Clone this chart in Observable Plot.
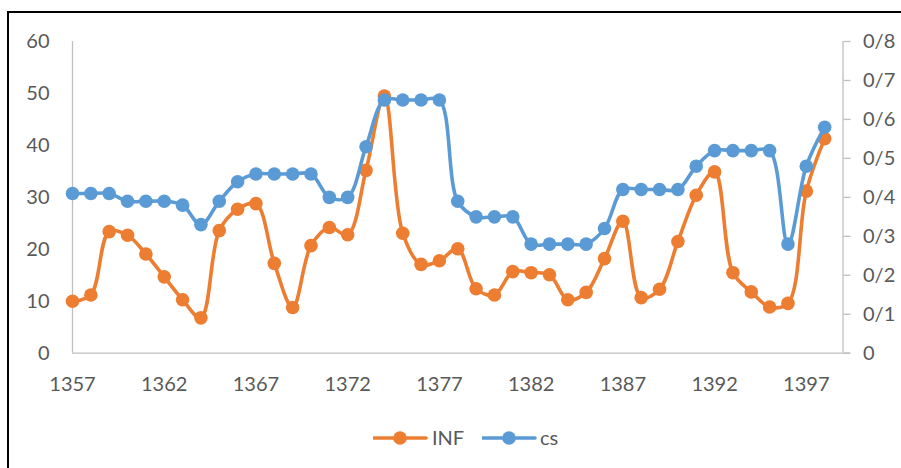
<!DOCTYPE html>
<html><head><meta charset="utf-8">
<script src="https://cdn.jsdelivr.net/npm/d3@7"></script>
<script src="https://cdn.jsdelivr.net/npm/@observablehq/plot@0.6"></script>
<style>
html,body{margin:0;padding:0;background:#fff;}
body{width:901px;height:468px;overflow:hidden;position:relative;font-family:Lato,"Open Sans",sans-serif;}
#frame{position:absolute;left:7px;top:11px;width:1000px;height:1000px;border:2px solid #000;box-sizing:border-box;}
#chart{position:absolute;left:0;top:0;}
.lg{position:absolute;font-size:20px;color:#595959;line-height:20px;}
</style></head>
<body>
<div id="frame"></div>
<div id="chart"></div>
<div id="legend"></div>
<script>
const years = [1357,1358,1359,1360,1361,1362,1363,1364,1365,1366,1367,1368,1369,1370,1371,1372,1373,1374,1375,1376,1377,1378,1379,1380,1381,1382,1383,1384,1385,1386,1387,1388,1389,1390,1391,1392,1393,1394,1395,1396,1397,1398];
const inf = [10.0,11.2,23.4,22.7,19.1,14.7,10.3,6.8,23.6,27.7,28.8,17.3,8.8,20.7,24.2,22.8,35.2,49.5,23.1,17.1,17.8,20.1,12.4,11.2,15.7,15.5,15.1,10.3,11.7,18.2,25.4,10.7,12.3,21.5,30.4,34.9,15.5,11.8,8.9,9.6,31.2,41.3];
const cs = [0.41,0.41,0.41,0.39,0.39,0.39,0.38,0.33,0.39,0.44,0.46,0.46,0.46,0.46,0.40,0.40,0.53,0.65,0.65,0.65,0.65,0.39,0.35,0.35,0.35,0.28,0.28,0.28,0.28,0.32,0.42,0.42,0.42,0.42,0.48,0.52,0.52,0.52,0.52,0.28,0.48,0.58];
const seriesNames = ["INF","cs"];
const seriesColors = ["#ED7D31","#5B9BD5"];
const leftTicks = [0,10,20,30,40,50,60];
const rightTicks = [0,0.1,0.2,0.3,0.4,0.5,0.6,0.7,0.8];
const rightLabels = ["0","0/1","0/2","0/3","0/4","0/5","0/6","0/7","0/8"];
const xTicks = [1357,1362,1367,1372,1377,1382,1387,1392,1397];

const leftMax = 60, rightMax = 0.8;
const k = leftMax / rightMax; // map secondary axis onto primary
const infData = years.map((y,i)=>({year:y, v:inf[i]}));
const csData = years.map((y,i)=>({year:y, v:cs[i]*k}));
const xMin = 1357, xMax = 1399;
const grey = "#BFBFBF", txt = "#595959";

const chart = Plot.plot({
  width: 901, height: 468,
  marginLeft: 72, marginRight: 58.5, marginTop: 41, marginBottom: 115.3,
  style: {fontFamily: "Lato, 'Open Sans', sans-serif", fontSize: "20px", color: txt, background: "transparent"},
  x: {domain: [xMin, xMax], axis: null},
  y: {domain: [0, leftMax], axis: null},
  marks: [
    Plot.ruleX([xMin], {stroke: grey, strokeWidth: 1.3}),
    Plot.ruleX([xMax], {stroke: grey, strokeWidth: 1.3}),
    Plot.ruleY([0], {x1: xMin, x2: xMax + 0.4, stroke: grey, strokeWidth: 1.3}),
    Plot.axisY(leftTicks, {anchor: "left", label: null, tickSize: 0, tickPadding: 23, fill: txt}),
    Plot.axisY(rightTicks.map(d=>d*k), {anchor: "right", label: null, tickSize: 7, tickPadding: 13, stroke: grey, strokeWidth: 1.3, fill: txt,
      tickFormat: (d,i)=>rightLabels[i]}),
    Plot.axisX(xTicks, {anchor: "bottom", label: null, tickSize: 0, tickPadding: 24, fill: txt, tickFormat: d=>String(d)}),
    Plot.line(infData, {x: "year", y: "v", stroke: seriesColors[0], strokeWidth: 3.6, curve: "catmull-rom"}),
    Plot.dot(infData, {x: "year", y: "v", r: 6.8, fill: seriesColors[0], stroke: "none"}),
    Plot.line(csData, {x: "year", y: "v", stroke: seriesColors[1], strokeWidth: 3.6, curve: "catmull-rom"}),
    Plot.dot(csData, {x: "year", y: "v", r: 6.8, fill: seriesColors[1], stroke: "none"})
  ]
});
document.getElementById("chart").appendChild(chart);

// legend
const lg = document.getElementById("legend");
const lgPos = [{sx:373, tx:432},{sx:482, tx:540}];
const cy = 437.5;
seriesNames.forEach((name,i)=>{
  const p = lgPos[i];
  const sw = document.createElementNS("http://www.w3.org/2000/svg","svg");
  sw.setAttribute("width","56"); sw.setAttribute("height","18");
  sw.style.position="absolute"; sw.style.left=p.sx+"px"; sw.style.top=(cy-9)+"px";
  sw.innerHTML = `<line x1="1" x2="53" y1="9" y2="9" stroke="${seriesColors[i]}" stroke-width="3.6" stroke-linecap="round"/><circle cx="27" cy="9" r="6.8" fill="${seriesColors[i]}"/>`;
  lg.appendChild(sw);
  const t = document.createElement("div");
  t.className="lg"; t.textContent=name;
  t.style.left=p.tx+"px"; t.style.top=(cy-11)+"px";
  lg.appendChild(t);
});
</script>
</body></html>
